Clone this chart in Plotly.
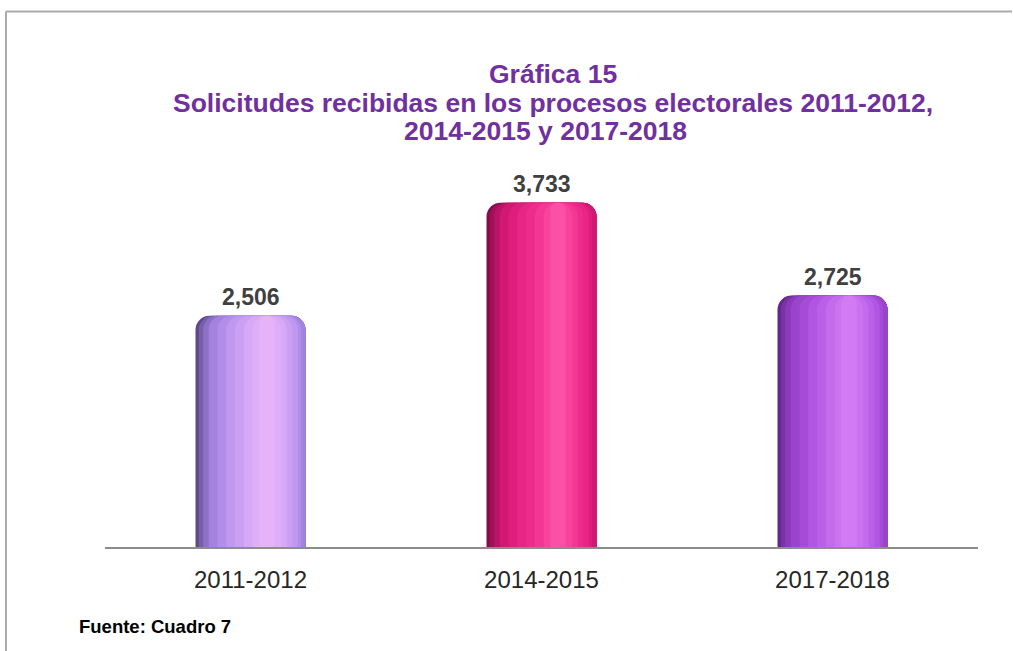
import plotly.graph_objects as go

# ---- data ----
categorias = ["2011-2012", "2014-2015", "2017-2018"]
solicitudes = [2506, 3733, 2725]
titulo_lineas = ["Gráfica 15",
                 "Solicitudes recibidas en los procesos electorales 2011-2012,",
                 "2014-2015 y 2017-2018"]
fuente = "Fuente: Cuadro 7"

# ---- style: cylinder shading layers (left, right fraction of bar width, colors per bar) ----
BAR_W = 0.378
capas = [
    (0.00, 1.00, ["#5E4886", "#850E4A", "#64288C"]),
    (0.03, 1.00, ["#7660A8", "#A0115A", "#7833A5"]),
    (0.07, 1.00, ["#8E70C8", "#BA1468", "#8A3BBA"]),
    (0.12, 1.00, ["#A483E0", "#D21873", "#9A44CC"]),
    (0.20, 0.96, ["#B28EEA", "#DF1D7C", "#A54BD8"]),
    (0.28, 0.93, ["#BF98F0", "#E82484", "#B056E2"]),
    (0.36, 0.88, ["#CBA0F4", "#EE2D8B", "#BA60E8"]),
    (0.44, 0.83, ["#D6A8F7", "#F33794", "#C36AED"]),
    (0.52, 0.78, ["#DFAEF9", "#F7439C", "#CB72F0"]),
    (0.58, 0.72, ["#E6B2FA", "#FA50A6", "#D27AF3"]),
]

fig = go.Figure()
for a, b, cols in capas:
    fig.add_trace(go.Bar(
        x=categorias, y=solicitudes,
        width=(b - a) * BAR_W, offset=-BAR_W / 2 + a * BAR_W,
        marker=dict(color=cols, line=dict(width=0), cornerradius=14),
        hoverinfo="skip", showlegend=False,
    ))

FONT = "Liberation Sans, Arial"

# value labels
for c, v in zip(categorias, solicitudes):
    fig.add_annotation(x=c, y=v, text=f"<b>{v:,}</b>", showarrow=False,
                       yanchor="middle", yshift=19,
                       font=dict(family=FONT, size=23, color="#404040"))

L, R, T, B = 105, 35, 178, 104
W, H = 1013, 651
pw, ph = W - L - R, H - T - B

def px(xp):
    return (xp - L) / pw

def py(yp):
    return (H - B - yp) / ph

# title (one annotation per line)
for linea, xc, yc in zip(titulo_lineas, [553, 553, 545], [74, 103, 131]):
    fig.add_annotation(text=f"<b>{linea}</b>", xref="paper", yref="paper",
                       x=px(xc), y=py(yc), xanchor="center", yanchor="middle",
                       showarrow=False,
                       font=dict(family=FONT, size=26.5, color="#7030A0"))
# source
fig.add_annotation(text=f"<b>{fuente}</b>", xref="paper", yref="paper",
                   x=px(77), y=py(626), xanchor="left", yanchor="middle",
                   showarrow=False,
                   font=dict(family=FONT, size=18.5, color="#000000"))

# outer frame (top and left lines)
fig.add_shape(type="line", xref="paper", yref="paper",
              x0=px(6), x1=px(1012), y0=py(11.5), y1=py(11.5),
              line=dict(color="#ABABAB", width=2))
fig.add_shape(type="line", xref="paper", yref="paper",
              x0=px(6), x1=px(6), y0=py(11.5), y1=py(660),
              line=dict(color="#ABABAB", width=2))

fig.update_layout(
    width=W, height=H,
    margin=dict(l=L, r=R, t=T, b=B, pad=0),
    barmode="overlay",
    paper_bgcolor="white", plot_bgcolor="white",
    font=dict(family=FONT),
    xaxis=dict(range=[-0.5, 2.5], showline=True, linecolor="#8C8C8C", linewidth=2,
               ticks="", showgrid=False, zeroline=False, ticklabelstandoff=10,
               tickfont=dict(size=24, color="#262626")),
    yaxis=dict(range=[0, 4000], visible=False, showgrid=False, zeroline=False),
)

fig.write_html("out.html", config={"displayModeBar": False},
               post_script="document.body.style.margin='0';document.body.style.padding='0';")
